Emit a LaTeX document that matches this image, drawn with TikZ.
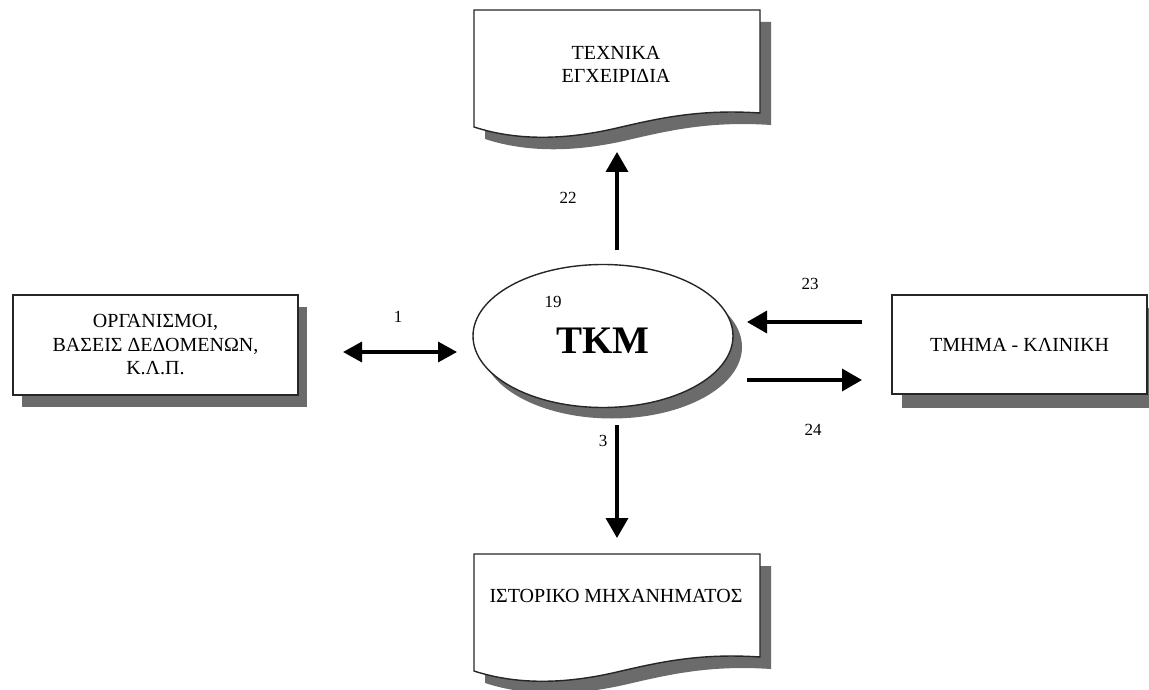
\documentclass[tikz,border=0pt]{standalone}
\usepackage{fontspec}
\setmainfont{Liberation Serif}
\usetikzlibrary{arrows.meta,shapes.geometric}
\begin{document}
\begin{tikzpicture}[x=1pt,y=-1pt,
  shadowfill/.style={fill=black!58, draw=none},
  outline/.style={draw=black!85, line width=1.4pt, fill=white},
  lbl/.style={font=\fontsize{20}{23.5}\selectfont, align=center, inner sep=0pt},
  num/.style={font=\fontsize{17}{19}\selectfont, inner sep=0pt},
  flow/.style={line width=3.6pt, -{Triangle[length=20pt,width=22pt]}},
  flowboth/.style={line width=3.4pt, {Triangle[length=19pt,width=20pt]}-{Triangle[length=19pt,width=20pt]}}
]
\useasboundingbox (0,0) rectangle (1149,690);

% left box
\fill[shadowfill] (22,307) rectangle (307,407);
\node[outline, minimum width=285pt, minimum height=100pt, lbl] (org) at (155.5,345)
  {ΟΡΓΑΝΙΣΜΟΙ,\\ΒΑΣΕΙΣ ΔΕΔΟΜΕΝΩΝ,\\Κ.Λ.Π.};

% right box
\fill[shadowfill] (902,308) rectangle (1160,408);
\node[outline, minimum width=255pt, minimum height=99pt, lbl] (dept) at (1019.5,344.5)
  {ΤΜΗΜΑ - ΚΛΙΝΙΚΗ};

% central ellipse
\fill[shadowfill] (612,347) ellipse [x radius=130pt, y radius=71.5pt];
\node[ellipse, outline, minimum width=260pt, minimum height=143pt, inner sep=0pt] (tkm) at (603,336) {};
\node[font=\bfseries\fontsize{39}{40}\selectfont, anchor=base, inner sep=0pt] (tkmT) at (603,353) {ΤΚΜ};
\node[num] (n19) at (553,302) {19};

% top document
\begin{scope}[shift={(11,12)}]
  \fill[shadowfill] (474,10) -- (760,10) -- (760,113) .. controls (700,109) and (660,118) .. (617,128)
    .. controls (570,139) and (520,142) .. (474,127) -- cycle;
\end{scope}
\draw[outline] (474,10) -- (760,10) -- (760,113) .. controls (700,109) and (660,118) .. (617,128)
    .. controls (570,139) and (520,142) .. (474,127) -- cycle;
\node[lbl] (tech) at (616,64.5) {ΤΕΧΝΙΚΑ\\ΕΓΧΕΙΡΙΔΙΑ};

% bottom document
\begin{scope}[shift={(11,556)}]
  \fill[shadowfill] (474,10) -- (760,10) -- (760,113) .. controls (700,109) and (660,118) .. (617,128)
    .. controls (570,139) and (520,142) .. (474,127) -- cycle;
\end{scope}
\begin{scope}[shift={(0,544)}]
  \draw[outline] (474,10) -- (760,10) -- (760,113) .. controls (700,109) and (660,118) .. (617,128)
    .. controls (570,139) and (520,142) .. (474,127) -- cycle;
\end{scope}
\node[lbl] (hist) at (616,596) {ΙΣΤΟΡΙΚΟ ΜΗΧΑΝΗΜΑΤΟΣ};

% connector end points
\coordinate (upS) at (617,250);
\coordinate (upE) at (617,152);
\coordinate (dnS) at (617,425);
\coordinate (dnE) at (617,538);
\coordinate (lfA) at (343,352);
\coordinate (lfB) at (457,352);
\coordinate (inS) at (862,322);
\coordinate (inE) at (747,322);
\coordinate (outS) at (747,380);
\coordinate (outE) at (862,380);

\draw[flow] (upS) -- (upE);
\draw[flow] (dnS) -- (dnE);
\draw[flowboth] (lfA) -- (lfB);
\draw[flow] (inS) -- (inE);
\draw[flow] (outS) -- (outE);

\node[num] (l22) at (568,198) {22};
\node[num] (l1) at (398,317) {1};
\node[num] (l23) at (810,284) {23};
\node[num] (l24) at (813,430) {24};
\node[num] (l3) at (603,441) {3};
\end{tikzpicture}
\end{document}
